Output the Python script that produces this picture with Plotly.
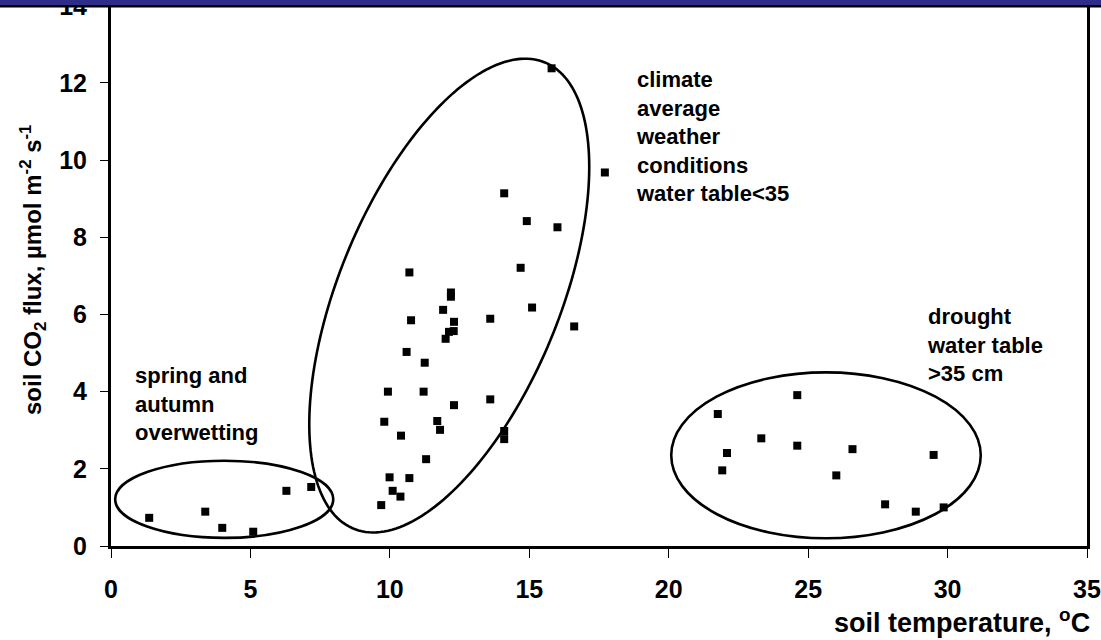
import numpy as np
import plotly.graph_objects as go

# ---------------- data ----------------
spring_x = [1.37, 3.38, 3.99, 5.10, 6.29, 7.18]
spring_y = [0.73, 0.89, 0.47, 0.37, 1.43, 1.53]

climate_x = [15.80, 17.71, 14.10, 14.91, 16.01, 10.70, 14.69, 12.19, 12.19, 11.91,
             15.10, 10.76, 12.30, 13.60, 16.61, 12.29, 12.12, 12.00, 10.60, 11.25,
             9.93, 11.21, 12.30, 13.60, 9.80, 11.70, 11.80, 14.10, 14.10, 10.40,
             11.30, 9.99, 10.70, 10.10, 10.38, 9.69]
climate_y = [12.38, 9.68, 9.14, 8.42, 8.26, 7.09, 7.21, 6.57, 6.46, 6.12,
             6.18, 5.85, 5.81, 5.89, 5.69, 5.57, 5.55, 5.37, 5.03, 4.75,
             4.00, 4.00, 3.65, 3.80, 3.22, 3.24, 3.01, 2.98, 2.77, 2.86,
             2.25, 1.78, 1.76, 1.43, 1.28, 1.06]

drought_x = [21.76, 24.61, 23.32, 22.09, 24.61, 26.59, 29.50, 21.92, 26.01, 27.76, 28.86, 29.86]
drought_y = [3.42, 3.91, 2.79, 2.41, 2.60, 2.51, 2.36, 1.96, 1.83, 1.08, 0.89, 1.00]

x_ticks = [0, 5, 10, 15, 20, 25, 30, 35]
y_ticks = [0, 2, 4, 6, 8, 10, 12, 14]

labels = {
    "spring": "spring and<br>autumn<br>overwetting",
    "climate": "climate<br>average<br>weather<br>conditions<br>water table<35",
    "drought": "drought<br>water table<br>>35 cm",
}

# ---------------- layout constants ----------------
W, H = 1101, 640
ML, MR, MT, MB = 111, 14, 0, 94
plot_w = W - ML - MR
plot_h = H - MT - MB
X_RANGE = [0, 35]
Y_RANGE = [0, 14.15]
sx = plot_w / (X_RANGE[1] - X_RANGE[0])   # px per x unit
sy = plot_h / (Y_RANGE[1] - Y_RANGE[0])   # px per y unit

FONT = "Liberation Sans, Arial, Helvetica, sans-serif"
BLACK = "#000000"

fig = go.Figure()
for xs, ys in [(spring_x, spring_y), (climate_x, climate_y), (drought_x, drought_y)]:
    fig.add_trace(go.Scatter(
        x=xs, y=ys, mode="markers",
        marker=dict(symbol="square", size=8, color=BLACK, line=dict(width=0)),
        showlegend=False, hoverinfo="x+y", cliponaxis=False))

# ellipses
ell_w = 2.6
fig.add_shape(type="circle", xref="x", yref="y",
              x0=4.06 - 3.91, x1=4.06 + 3.91, y0=1.21 - 1.0, y1=1.21 + 1.0,
              line=dict(color=BLACK, width=ell_w), layer="above")
fig.add_shape(type="circle", xref="x", yref="y",
              x0=25.64 - 5.55, x1=25.64 + 5.55, y0=2.35 - 2.15, y1=2.35 + 2.15,
              line=dict(color=BLACK, width=ell_w), layer="above")

# tilted ellipse, defined in pixel space then mapped to data space
cx_d, cy_d = 12.13, 6.49
a_px, b_px, phi = 252.0, 110.5, np.deg2rad(67.7)
t = np.linspace(0, 2 * np.pi, 200)
dx = a_px * np.cos(t) * np.cos(phi) - b_px * np.sin(t) * np.sin(phi)
dy = a_px * np.cos(t) * np.sin(phi) + b_px * np.sin(t) * np.cos(phi)
ex = cx_d + dx / sx
ey = cy_d + dy / sy
path = "M " + " L ".join(f"{u:.4f},{v:.4f}" for u, v in zip(ex, ey)) + " Z"
fig.add_shape(type="path", xref="x", yref="y", path=path,
              line=dict(color=BLACK, width=ell_w), layer="above")

# header bar
fig.add_shape(type="rect", xref="paper", yref="paper",
              x0=-0.2, x1=1.2, y0=1 - 5 / plot_h, y1=1.05,
              fillcolor="#2E2E8A", line=dict(width=0), layer="above")
fig.add_shape(type="rect", xref="paper", yref="paper",
              x0=-0.2, x1=1.2, y0=1 - 7.5 / plot_h, y1=1 - 5 / plot_h,
              fillcolor=BLACK, line=dict(width=0), layer="above")

ann_font = dict(family=FONT, size=22, color=BLACK, weight="bold")
fig.add_annotation(x=0.80, y=3.68, xref="x", yref="y", text=labels["spring"],
                   showarrow=False, xanchor="left", yanchor="middle", align="left", font=ann_font)
fig.add_annotation(x=18.75, y=10.62, xref="x", yref="y", text=labels["climate"],
                   showarrow=False, xanchor="left", yanchor="middle", align="left", font=ann_font)
fig.add_annotation(x=29.2, y=5.22, xref="x", yref="y", text=labels["drought"],
                   showarrow=False, xanchor="left", yanchor="middle", align="left", font=ann_font)

# axis titles as annotations
title_font = dict(family=FONT, size=27, color=BLACK, weight="bold")
fig.add_annotation(x=1 + 5 / plot_w, y=-(621 - plot_h) / plot_h, xref="paper", yref="paper",
                   text="soil temperature, <sup>o</sup>C", showarrow=False,
                   xanchor="right", yanchor="middle", font=title_font)
fig.add_annotation(x=-(ML - 33) / plot_w, y=(plot_h - 270) / plot_h, xref="paper", yref="paper",
                   text="soil CO<sub>2</sub> flux, µmol m<sup>-2</sup> s<sup>-1</sup>",
                   showarrow=False, textangle=-90, xanchor="center", yanchor="middle",
                   font=dict(family=FONT, size=24, color=BLACK, weight="bold"))

tick_font = dict(family=FONT, size=25, color=BLACK, weight="bold")
fig.update_xaxes(range=X_RANGE, tickvals=x_ticks, ticktext=[str(v) for v in x_ticks],
                 showgrid=False, zeroline=False, showline=True, linecolor=BLACK, linewidth=3,
                 ticks="outside", ticklen=9, tickwidth=1, tickcolor=BLACK,
                 tickfont=tick_font, ticklabelstandoff=10, automargin=False,
                 ticklabeloverflow="allow")
fig.update_yaxes(range=Y_RANGE, tickvals=y_ticks, ticktext=[str(v) for v in y_ticks],
                 showgrid=False, zeroline=False, showline=True, linecolor=BLACK, linewidth=3,
                 mirror=True,
                 ticks="outside", ticklen=8, tickwidth=1, tickcolor=BLACK,
                 tickfont=tick_font, ticklabelstandoff=8, automargin=False,
                 ticklabeloverflow="allow")

fig.update_layout(width=W, height=H, margin=dict(l=ML, r=MR, t=MT, b=MB, autoexpand=False),
                  paper_bgcolor="white", plot_bgcolor="white", showlegend=False)

fig.write_html("out.html", config={"displayModeBar": False},
               post_script="document.body.style.margin='0';document.body.style.overflow='hidden';")
